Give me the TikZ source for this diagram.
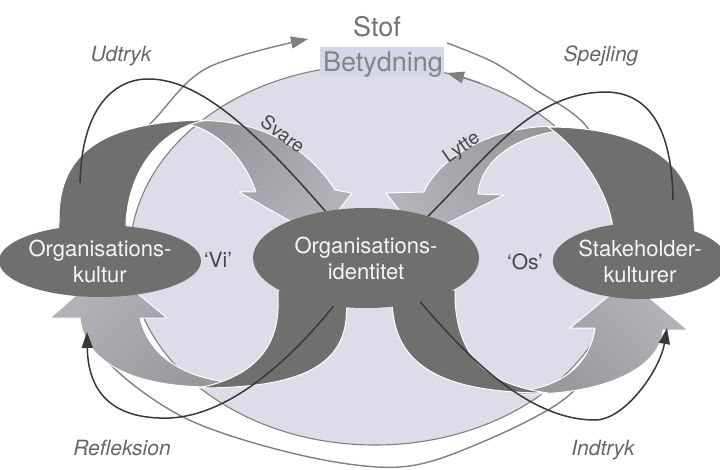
\documentclass[tikz,border=0pt]{standalone}
\usepackage{fontspec}
\setmainfont{TeX Gyre Heros}
\usetikzlibrary{shapes.geometric,arrows.meta}
\definecolor{fillL}{HTML}{DCDDE8}
\definecolor{darkG}{HTML}{6E706E}
\definecolor{lightA}{HTML}{96989C}
\definecolor{lightB}{HTML}{B2B4BA}
\definecolor{boxB}{HTML}{D3D7E8}
\definecolor{arcG}{HTML}{808080}
\definecolor{lineK}{HTML}{383838}
\definecolor{labG}{HTML}{666666}
\begin{document}
\begin{tikzpicture}[x=1pt,y=-1pt,
  ell/.style={ellipse, fill=darkG, text=white!96!black, inner sep=0pt, align=center, font=\fontsize{22}{26}\selectfont},
  darkband/.style={fill=darkG, draw=white, line width=1pt, line join=round},
  lightband/.style={draw=white, line width=1pt, line join=round},
  thinarc/.style={draw=arcG, line width=1.4pt},
  graytip/.style={-{Triangle[length=17pt,width=12pt]}},
  flow/.style={draw=lineK, line width=1.5pt},
  flowtip/.style={-{Triangle[length=16pt,width=11pt]}},
  lab/.style={text=labG, font=\fontsize{21}{24}\selectfont\itshape},
  bandlab/.style={text=black!72, font=\fontsize{19}{22}\selectfont},
  quotelab/.style={text=black!72, font=\fontsize{21}{24}\selectfont},
]
\useasboundingbox (0,0) rectangle (720,470);
\fill[white] (0,0) rectangle (720,470);

% large light ellipse (Betydning loop)
\fill[fillL] (375,255) ellipse [x radius=245pt, y radius=190pt];
\draw[draw=arcG, line width=1.1pt] (375,255) ellipse [x radius=245pt, y radius=190pt];

% outer Stof loop
\draw[thinarc, graytip] plot[smooth, tension=0.55] coordinates {
  (447,43) (493,62) (533,88) (587,127) (615,195) (620,265) (605,340) (567,397)
  (480,443) (400,467) (300,455) (183,417) (100,353) (76,280) (88,190)
  (152,122) (207,68) (308,39)};

% Betydning box and arrow head
\fill[boxB] (320,47) rectangle (444,77);
\draw[thinarc, graytip] (480,83) .. controls (465,78) .. (447,73);

% upper left band (Svare)
\path[lightband, top color=lightA, bottom color=lightB, shading angle=45]
  (188,121) .. controls (260,116) and (310,150) .. (335,190)
  -- (352,193) -- (318,237) -- (239,192) -- (256,192)
  .. controls (245,160) and (220,132) .. (188,124) -- cycle;
\path[darkband] (57,245) -- (59,222) .. controls (58,160) and (92,121) .. (208,120)
  .. controls (170,125) and (130,160) .. (126,222) -- (127,245) -- cycle;

% upper right band (Lytte)
\path[lightband, top color=lightA, bottom color=lightB, shading angle=-45]
  (568,127) .. controls (500,121) and (440,155) .. (424,192)
  -- (386,193) -- (420,237) -- (504,195) -- (478,194)
  .. controls (480,165) and (510,135) .. (568,130) -- cycle;
\path[darkband] (696,245) -- (694,222) .. controls (694,165) and (645,127) .. (548,127)
  .. controls (575,145) and (605,185) .. (612,222) -- (613,245) -- cycle;

% lower left band
\path[lightband, top color=lightB, bottom color=lightA, shading angle=45]
  (238,386) .. controls (150,392) and (85,370) .. (80,318)
  -- (50,318) -- (107,268) -- (167,318) -- (140,318)
  .. controls (150,360) and (190,380) .. (238,383) -- cycle;
\path[darkband] (278,290) -- (278,300) .. controls (280,350) and (250,378) .. (198,388)
  .. controls (280,388) and (340,375) .. (346,320) -- (348,290) -- cycle;

% lower right band
\path[lightband, top color=lightB, bottom color=lightA, shading angle=-45]
  (518,394) .. controls (600,396) and (660,370) .. (663,330)
  -- (688,330) -- (628,280) -- (570,328) -- (595,328)
  .. controls (590,365) and (560,388) .. (518,391) -- cycle;
\path[darkband] (390,290) -- (393,313) .. controls (400,375) and (460,393) .. (548,393)
  .. controls (490,385) and (458,360) .. (455,300) -- (455,290) -- cycle;

% ellipses
\node[ell, minimum width=176pt, minimum height=72pt] (kultur) at (100,261) {Organisations-\\kultur};
\node[ell, minimum width=226pt, minimum height=100pt] (ident) at (366,258) {Organisations-\\identitet};
\node[ell, minimum width=154pt, minimum height=76pt] (stake) at (640,261) {Stakeholder-\\kulturer};

% thin black flows
\coordinate (udA) at (80,183);
\coordinate (spB) at (673,200);
\coordinate (reT) at (87,332);
\coordinate (inT) at (667,328);
\draw[flow] (udA) .. controls (82,100) and (120,78) .. (150,79)
  .. controls (200,80) and (255,130) .. (ident.131);
\draw[flow] (ident.34) .. controls (485,160) and (530,93) .. (605,92)
  .. controls (650,92) and (672,130) .. (spB);
\draw[flow, flowtip] (ident.236) .. controls (290,360) and (230,415) .. (170,418)
  .. controls (110,420) and (88,390) .. (reT);
\draw[flow, flowtip] (ident.321) .. controls (470,360) and (530,420) .. (595,420)
  .. controls (625,420) and (660,370) .. (inT);

% texts
\node[text=black!55, font=\fontsize{27}{30}\selectfont] (stof) at (377,27) {Stof};
\node[text=black!48, font=\fontsize{27}{30}\selectfont, anchor=base] (bet) at (383,72) {Betydning};
\node[lab, anchor=base] (udtryk) at (121,62) {Udtryk};
\node[lab, anchor=base] (spejl) at (601,62) {Spejling};
\node[lab, anchor=base] (refl) at (122,455) {Refleksion};
\node[lab, anchor=base] (indtr) at (603,455) {Indtryk};
\node[bandlab, rotate=-37] (svare) at (283,134) {Svare};
\node[bandlab, rotate=35] (lytte) at (462,148) {Lytte};
\node[quotelab, anchor=base] (vi) at (218,268) {‘Vi’};
\node[quotelab, anchor=base] (os) at (525,270) {‘Os’};
\end{tikzpicture}
\end{document}
